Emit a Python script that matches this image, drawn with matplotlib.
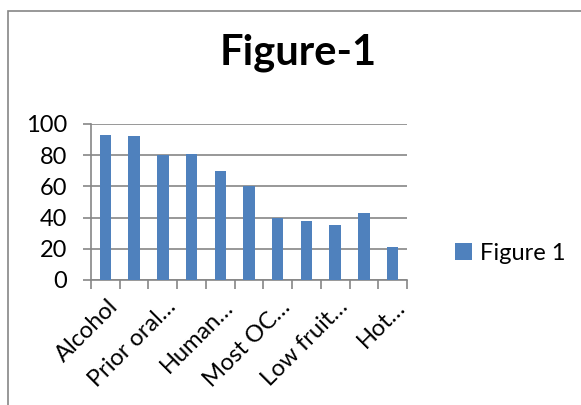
import matplotlib
matplotlib.use("Agg")
import matplotlib.pyplot as plt
from matplotlib.patches import Rectangle

plt.rcParams['font.family'] = ['Lato', 'DejaVu Sans']

# risk factor scores, in chart order
values = [93, 92, 80, 81, 70, 60, 40, 38, 35, 43, 21]
# only every second category gets a visible label
label_positions = [0, 2, 4, 6, 8, 10]
tick_labels = ["Alcohol", "Prior oral\u2026", "Human\u2026", "Most OC\u2026", "Low fruit\u2026", "Hot\u2026"]
series_name = "Figure 1"
chart_title = "Figure-1"

bar_color = "#4F81BD"
grid_color = "#868686"

fig = plt.figure(figsize=(5.81, 4.05), dpi=100)

# outer chart frame, runs off the right and bottom edges
fig.patches.append(Rectangle((8 / 581, -0.1), 1.2, 1 - 11 / 405 + 0.1,
                             transform=fig.transFigure, fill=False,
                             edgecolor=grid_color, linewidth=1.2))

ax = fig.add_axes([91 / 581, 1 - 280 / 405, (407 - 91) / 581, (280 - 124) / 405])

x = list(range(len(values)))
ax.bar(x, values, width=0.4, color=bar_color, label=series_name, zorder=3)

ax.set_xlim(-0.5, len(values) - 0.5)
ax.set_ylim(0, 100)
ax.set_yticks(range(0, 101, 20))
ax.yaxis.grid(True, color=grid_color, linewidth=1.2, zorder=0)
ax.tick_params(axis='y', length=6, width=1.2, color=grid_color, labelsize=17, pad=11)

# category separators as x ticks
ax.set_xticks([i - 0.5 for i in range(len(values) + 1)])
ax.set_xticklabels([])
ax.tick_params(axis='x', length=6.5, width=1.2, color=grid_color)
for pos, text in zip(label_positions, tick_labels):
    ax.text(pos + 0.49, -18, text, rotation=45, ha='right', va='baseline',
            rotation_mode='anchor', fontsize=17, transform=ax.transData)

for side in ['top', 'right']:
    ax.spines[side].set_visible(False)
ax.spines['left'].set_color(grid_color)
ax.spines['bottom'].set_color(grid_color)
ax.spines['left'].set_linewidth(1.2)
ax.spines['bottom'].set_linewidth(1.2)

fig.text(298 / 581, 1 - 64 / 405, chart_title, fontsize=30, fontweight='bold',
         ha='center', va='baseline')

fig.legend(loc='center left', bbox_to_anchor=(455 / 581, 1 - 253 / 405),
           frameon=False, fontsize=17, handlelength=0.7, handleheight=0.7,
           handletextpad=0.35, borderpad=0, borderaxespad=0)

fig.savefig("out.png", dpi=100)
